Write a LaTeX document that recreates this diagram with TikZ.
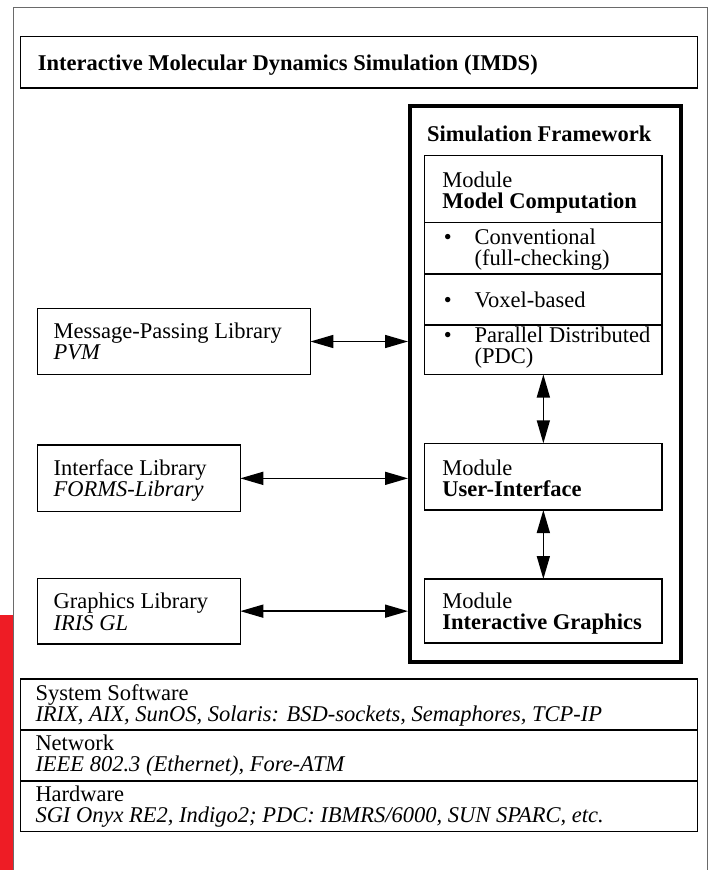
\documentclass[tikz,border=0pt]{standalone}
\usepackage{fontspec}
\setmainfont{Liberation Serif}
\usetikzlibrary{arrows.meta}
\definecolor{redbar}{HTML}{EE1C25}
\definecolor{framegray}{HTML}{6A6A6A}
\tikzset{
  box/.style={draw=black, line width=1.3pt, rectangle, anchor=north west, inner sep=0pt, outer sep=0pt},
  fwbox/.style={draw=black, line width=3.5pt, rectangle, anchor=north west, inner sep=0pt},
  txt/.style={anchor=base west, inner sep=0pt, outer sep=0pt},
  dbl/.style={line width=1.5pt, {Triangle[length=23pt,width=13pt]}-{Triangle[length=23pt,width=13pt]}},
  divider/.style={line width=1.3pt}
}
\begin{document}
\begin{tikzpicture}[x=1pt, y=-1pt, font=\fontsize{22.5pt}{21pt}\selectfont]
\useasboundingbox (0,0) rectangle (714,870);
% outer frame and red bar
\fill[redbar] (0,615) rectangle (12.5,870);
\draw[framegray, line width=1pt] (13,870) -- (13,7.5) -- (707,7.5) -- (707,870);

% title
\node[box, minimum width=677.3pt, minimum height=51.5pt] (title) at (20.5,36.5) {};
\node[txt] (titletxt) at (37.8,70) {\bfseries Interactive Molecular Dynamics Simulation (IMDS)};

% framework
\node[fwbox, minimum width=271pt, minimum height=556pt] (fw) at (408,104) {};
\node[txt] (fwtxt) at (427,141) {\bfseries Simulation Framework};

% model computation
\node[box, minimum width=237.3pt, minimum height=218.8pt] (mc) at (424.7,155.7) {};
\draw[divider] (mc.west |- 0,222.5) -- (mc.east |- 0,222.5);
\draw[divider] (mc.west |- 0,274) -- (mc.east |- 0,274);
\draw[divider] (mc.west |- 0,325) -- (mc.east |- 0,325);
\node[txt] (mc1) at (442.4,187) {Module};
\node[txt] (mc2) at (442.4,208) {\bfseries Model Computation};
\node[txt] (b1) at (443.8,244) {•};
\node[txt] (c1) at (474.7,244) {Conventional};
\node[txt] (c2) at (474.7,265) {(full-checking)};
\node[txt] (b2) at (443.8,307) {•};
\node[txt] (v1) at (474.7,307) {Voxel-based};
\node[txt] (b3) at (443.8,342) {•};
\node[txt] (p1) at (474.7,342) {Parallel Distributed};
\node[txt] (p2) at (474.7,363) {(PDC)};

% user interface
\node[box, minimum width=237.3pt, minimum height=66.7pt] (ui) at (424.7,443.3) {};
\node[txt] (ui1) at (442.4,475) {Module};
\node[txt] (ui2) at (442.4,496) {\bfseries User-Interface};

% interactive graphics
\node[box, minimum width=237.3pt, minimum height=64pt] (ig) at (424.7,579) {};
\node[txt] (ig1) at (442.4,608) {Module};
\node[txt] (ig2) at (442.4,629) {\bfseries Interactive Graphics};

% libraries
\node[box, minimum width=272.6pt, minimum height=66.4pt] (mpl) at (37.8,308.3) {};
\node[txt] (mpl1) at (53.7,338) {Message-Passing Library};
\node[txt] (mpl2) at (53.7,359) {\itshape PVM};

\node[box, minimum width=202.5pt, minimum height=66.7pt] (il) at (37.8,445) {};
\node[txt] (il1) at (53.7,475) {Interface Library};
\node[txt] (il2) at (53.7,496) {\itshape FORMS-Library};

\node[box, minimum width=202.5pt, minimum height=65.7pt] (gl) at (37.8,578.3) {};
\node[txt] (gl1) at (53.7,608) {Graphics Library};
\node[txt] (gl2) at (53.7,630) {\itshape IRIS GL};

% connectors
\draw[dbl] (mpl.east) -- (mpl.east -| fw.west);
\draw[dbl] (il.east) -- (il.east -| fw.west);
\draw[dbl] (gl.east) -- (gl.east -| fw.west);
\draw[dbl] (mc.south) -- (ui.north);
\draw[dbl] (ui.south) -- (ig.north);

% bottom table
\node[box, minimum width=677pt, minimum height=152.5pt] (tab) at (20.5,679) {};
\draw[divider] (tab.west |- 0,730) -- (tab.east |- 0,730);
\draw[divider] (tab.west |- 0,781) -- (tab.east |- 0,781);
\node[txt] (s1) at (35.5,700) {System Software};
\node[txt] (s2) at (35.5,721) {\itshape IRIX, AIX, SunOS, Solaris: BSD-sockets, Semaphores, TCP-IP};
\node[txt] (n1) at (35.5,750) {Network};
\node[txt] (n2) at (35.5,771) {\itshape IEEE 802.3 (Ethernet), Fore-ATM};
\node[txt] (h1) at (35.5,801) {Hardware};
\node[txt] (h2) at (35.5,822) {\itshape SGI Onyx RE2, Indigo2; PDC: IBMRS/6000, SUN SPARC, etc.};
\end{tikzpicture}
\end{document}
